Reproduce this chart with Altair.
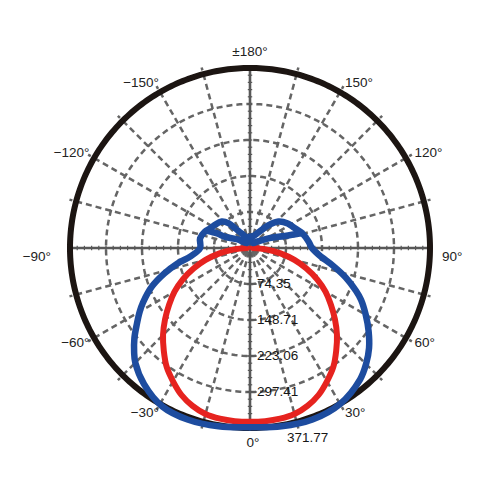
import altair as alt
import numpy as np
import pandas as pd

# ---------------- data ----------------
max_value = 371.77
ring_values = [74.35, 148.71, 223.06, 297.41]
ring_labels = ["74.35", "148.71", "223.06", "297.41"]
outer_label = "371.77"

right_label_angles = [30, 60, 120, 150]
right_label_texts = ["30°", "60°", "120°", "150°"]
left_label_angles = [-30, -60, -120, -150]
left_label_texts = ["−30°", "−60°", "−120°", "−150°"]
side_label_angles = [90, -90]
side_label_texts = ["90°", "−90°"]
top_label = "±180°"
bottom_label = "0°"

spoke_angles = [15, 30, 45, 60, 75, 105, 120, 135, 150, 165,
                -15, -30, -45, -60, -75, -105, -120, -135, -150, -165]

red_angles = [-90, -85, -80, -75, -70, -65, -60, -55, -50, -45, -40, -35, -30, -25, -20, -15, -10, -5,
              0, 5, 10, 15, 20, 25, 30, 35, 40, 45, 50, 55, 60, 65, 70, 75, 80, 85, 90]
red_values = [6, 33, 64, 95, 124, 153, 180, 204, 229, 254, 277, 300, 318, 335, 347, 355, 358, 359,
              359, 359, 358, 355, 347, 335, 318, 300, 277, 254, 229, 204, 180, 153, 124, 95, 64, 33, 6]

blue_right_angles = [0, 10, 20, 30, 40, 45, 50, 55, 60, 65, 68, 73, 78, 84, 90, 96, 100, 106,
                     116, 123, 133, 141, 150, 165, 180, 150, 130, 117, 109, 106]
blue_right_values = [370, 374, 377, 372, 354, 339, 321, 299, 276, 253, 236, 206, 175, 144, 128, 122, 118, 112,
                     99, 93, 80, 60, 39, 25, 23, 12, 21, 45, 76, 112]

blue_left_angles = [0, -10, -20, -29, -38, -45, -48, -52, -56, -60, -63, -68.5, -73.4, -78, -82, -90, -101, -110,
                    -116, -123, -133, -139, -143, -150, -165, -180, -150, -125, -114, -114, -112]
blue_left_values = [370, 374, 377, 374, 356, 335, 322, 303, 282, 263, 248, 218, 185, 153, 124, 103, 105, 99,
                    92, 87, 80, 68, 51, 35, 23, 23, 12, 31, 56, 74, 95]

# ---------------- layout ----------------
W = H = 484
PX = 180.0 / max_value            # pixels per data unit
cx_px, cy_px = 242.0, 240.0       # centre inside the plot area
xs = alt.Scale(domain=[-cx_px / PX, (W - cx_px) / PX], nice=False, zero=False)
ys = alt.Scale(domain=[-(H - cy_px) / PX, cy_px / PX], nice=False, zero=False)

FONT = "Liberation Sans"
GRID = "#656565"
AXIS = "#585858"
TXT = "#161616"

def polar_xy(ch, a="a", v="v", x="x", y="y"):
    return ch.transform_calculate(
        **{x: f"datum.{v} * sin(datum.{a} * PI / 180)",
           y: f"-datum.{v} * cos(datum.{a} * PI / 180)"}
    )

def enc_xy(x="x", y="y"):
    return dict(x=alt.X(f"{x}:Q", scale=xs, axis=None), y=alt.Y(f"{y}:Q", scale=ys, axis=None))

# grid rings (dashed)
ring_rows = []
for rv in ring_values:
    for i, a in enumerate(range(0, 361, 2)):
        ring_rows.append(dict(ring=rv, order=i, a=a, v=rv))
rings = polar_xy(alt.Chart(pd.DataFrame(ring_rows))).mark_line(
    color=GRID, strokeWidth=2.5, strokeDash=[6, 4]
).encode(**enc_xy(), detail="ring:N", order="order:Q")

# outer circle
outer_rows = [dict(order=i, a=a, v=max_value) for i, a in enumerate(range(0, 361, 1))]
outer = polar_xy(alt.Chart(pd.DataFrame(outer_rows))).mark_line(
    color="#1c1512", strokeWidth=6
).encode(**enc_xy(), order="order:Q")

# spokes
spk = pd.DataFrame(dict(a=spoke_angles, r0=[8] * len(spoke_angles), r1=[386] * len(spoke_angles)))
spokes = alt.Chart(spk).transform_calculate(
    x="datum.r0 * sin(datum.a * PI / 180)", y="-datum.r0 * cos(datum.a * PI / 180)",
    x2="datum.r1 * sin(datum.a * PI / 180)", y2="-datum.r1 * cos(datum.a * PI / 180)",
).mark_rule(color=GRID, strokeWidth=2.5, strokeDash=[6, 4]).encode(
    **enc_xy(), x2="x2:Q", y2="y2:Q"
)

# main axes (solid)
ax = pd.DataFrame(dict(x=[-max_value, 0], y=[0, -max_value], x2=[max_value, 0], y2=[0, max_value]))
axes = alt.Chart(ax).mark_rule(color=AXIS, strokeWidth=2.6).encode(**enc_xy(), x2="x2:Q", y2="y2:Q")

# minor ticks along axes
step = ring_values[0] / 5
ks = [k for k in range(-25, 26) if k != 0]
tl = 2.2 / PX
tick_rows = []
for k in ks:
    p = k * step
    tick_rows.append(dict(x=p, y=-tl, x2=p, y2=tl))
    tick_rows.append(dict(x=-tl, y=p, x2=tl, y2=p))
for rv in ring_values:
    tick_rows.append(dict(x=-3 / PX, y=-rv, x2=7 / PX, y2=-rv))
ticks = alt.Chart(pd.DataFrame(tick_rows)).mark_rule(color=AXIS, strokeWidth=1.2).encode(
    **enc_xy(), x2="x2:Q", y2="y2:Q"
)

# curves
red_df = pd.DataFrame(dict(order=range(len(red_angles)), a=red_angles, v=red_values))
red = polar_xy(alt.Chart(red_df)).mark_line(
    color="#e6231f", strokeWidth=6, strokeJoin="round", strokeCap="round", interpolate="catmull-rom"
).encode(**enc_xy(), order="order:Q")

blue_rows = []
for i, (a, v) in enumerate(zip(blue_right_angles, blue_right_values)):
    blue_rows.append(dict(seg="R", order=i, a=a, v=v))
for i, (a, v) in enumerate(zip(blue_left_angles, blue_left_values)):
    blue_rows.append(dict(seg="L", order=i, a=a, v=v))
blue = polar_xy(alt.Chart(pd.DataFrame(blue_rows))).mark_line(
    color="#1d4c9f", strokeWidth=6.5, strokeJoin="round", strokeCap="round", interpolate="catmull-rom"
).encode(**enc_xy(), detail="seg:N", order="order:Q")

# ring value labels
rl = pd.DataFrame(dict(x=[0] * len(ring_values), y=[-v for v in ring_values], t=ring_labels))
ring_text = alt.Chart(rl).mark_text(
    align="left", baseline="middle", dx=7, font=FONT, fontSize=13.5, color=TXT
).encode(**enc_xy(), text="t:N")
ol = pd.DataFrame(dict(x=[0], y=[-max_value], t=[outer_label]))
outer_text = alt.Chart(ol).mark_text(
    align="left", baseline="middle", dx=37, dy=10, font=FONT, fontSize=13.5, color=TXT
).encode(**enc_xy(), text="t:N")

LR = 190 / PX
def angle_text(angles, texts, **kw):
    df = pd.DataFrame(dict(a=angles, t=texts, v=[LR] * len(angles)))
    return polar_xy(alt.Chart(df)).mark_text(font=FONT, fontSize=13.5, color="#222222", **kw).encode(
        **enc_xy(), text="t:N")

rt = angle_text(right_label_angles, right_label_texts, align="left", baseline="middle")
lt = angle_text(left_label_angles, left_label_texts, align="right", baseline="middle", dx=4)
st_r = angle_text([side_label_angles[0]], [side_label_texts[0]], align="left", baseline="middle", dx=2, dy=9)
st_l = angle_text([side_label_angles[1]], [side_label_texts[1]], align="right", baseline="middle", dx=-9, dy=9)
tt = angle_text([180], [top_label], align="center", baseline="bottom", dy=1)
bt = angle_text([0], [bottom_label], align="center", baseline="top", dx=3, dy=-2)

chart = alt.layer(
    rings, spokes, axes, ticks, outer, red, blue,
    ring_text, outer_text, rt, lt, st_r, st_l, tt, bt
).properties(
    width=W, height=H, padding=0, autosize="none", background="white"
).configure_view(stroke=None)

chart.save("out.html", embed_options={"renderer": "svg", "actions": False})
